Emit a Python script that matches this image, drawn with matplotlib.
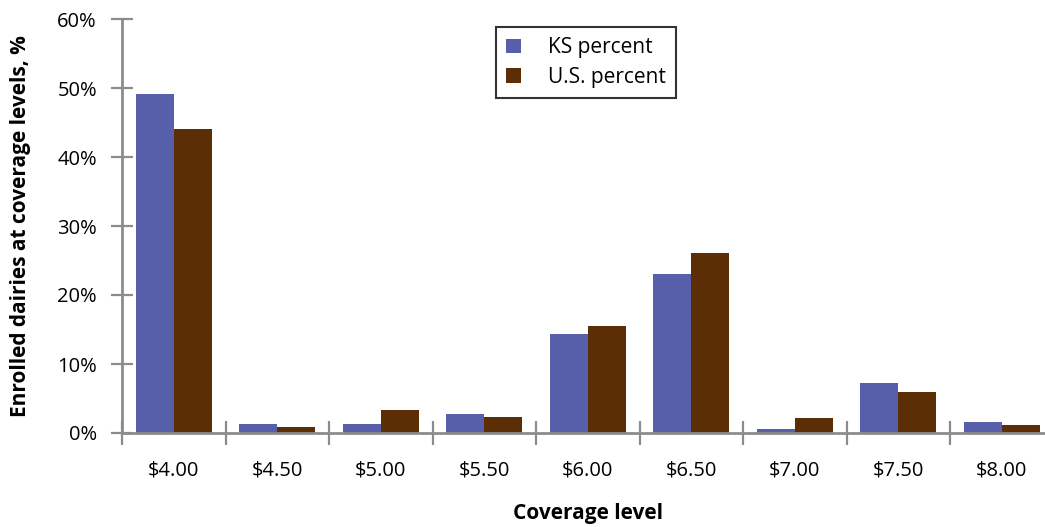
# Enrolled dairies by coverage level, KS vs U.S.
import matplotlib.pyplot as plt
import numpy as np

plt.rcParams['font.family'] = ['Open Sans', 'DejaVu Sans']

# Data
levels = ["$4.00", "$4.50", "$5.00", "$5.50", "$6.00", "$6.50", "$7.00", "$7.50", "$8.00"]
ks_percent = [49.1, 1.3, 1.3, 2.7, 14.3, 23.0, 0.55, 7.2, 1.55]
us_percent = [44.1, 0.85, 3.3, 2.3, 15.5, 26.1, 2.2, 5.9, 1.1]

blue = "#575eaa"
brown = "#5c2e06"
grey = "#8c8c8c"

fig = plt.figure(figsize=(10.45, 5.27), dpi=100)
ax = fig.add_axes([122 / 1045, 94 / 527, 931.5 / 1045, 414 / 527])

x = np.arange(len(levels))
w = 0.367
ax.bar(x - w / 2, ks_percent, width=w, color=blue, label="KS percent")
ax.bar(x + w / 2, us_percent, width=w, color=brown, label="U.S. percent")

ax.set_xlim(-0.5, len(levels) - 0.5)
ax.set_ylim(0, 60)

# y axis
ax.set_yticks(range(0, 61, 10))
ax.set_yticklabels([f"{v}%" for v in range(0, 61, 10)])
ax.tick_params(axis="y", direction="inout", length=16, width=1.6, color=grey,
               labelsize=14.5, pad=10)

# x axis: ticks at category boundaries, labels at centers
ax.set_xticks(np.arange(-0.5, len(levels), 1.0))
ax.set_xticklabels([])
ax.set_xticks(x, minor=True)
ax.set_xticklabels(levels, minor=True)
ax.tick_params(axis="x", which="major", direction="inout", length=17, width=1.6, color=grey)
ax.tick_params(axis="x", which="minor", length=0, labelsize=14.5, pad=20)

for side in ["top", "right"]:
    ax.spines[side].set_visible(False)
for side in ["left", "bottom"]:
    ax.spines[side].set_color(grey)
    ax.spines[side].set_linewidth(2)

ax.set_xlabel("Coverage level", fontsize=15, fontweight="bold", labelpad=16)
ax.set_ylabel("Enrolled dairies at coverage levels, %", fontsize=15, fontweight="bold", labelpad=19)

leg = ax.legend(loc="upper left", bbox_to_anchor=(496 / 1045, 1 - 27 / 527),
                bbox_transform=fig.transFigure, fontsize=15, fancybox=False,
                handlelength=0.7, handleheight=0.7, handletextpad=1.3,
                borderpad=0.5, labelspacing=0.4, borderaxespad=0)
leg.get_frame().set_edgecolor("black")
leg.get_frame().set_linewidth(1.5)

plt.savefig("out.png", dpi=100)
